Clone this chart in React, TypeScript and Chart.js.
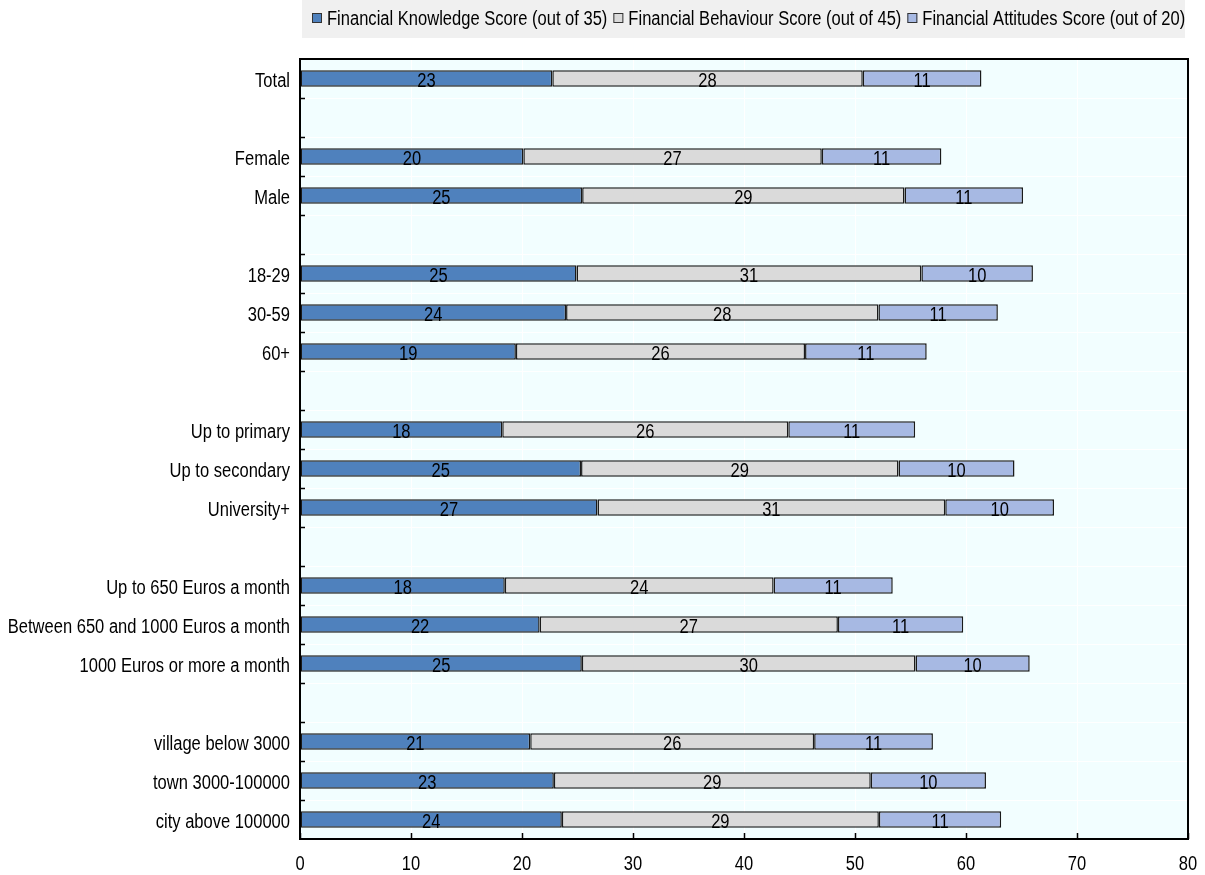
import { useEffect, useRef } from "react";
import { Chart, registerables } from "chart.js";

Chart.register(...registerables);

// Group rows; empty strings are spacer rows between groups
const categories: string[] = [
  "Total",
  "",
  "Female",
  "Male",
  "",
  "18-29",
  "30-59",
  "60+",
  "",
  "Up to primary",
  "Up to secondary",
  "University+",
  "",
  "Up to 650 Euros a month",
  "Between 650 and 1000 Euros a month",
  "1000 Euros or more a month",
  "",
  "village below 3000",
  "town 3000-100000",
  "city above 100000",
];

const seriesNames: string[] = [
  "Financial Knowledge Score (out of 35)",
  "Financial Behaviour Score (out of 45)",
  "Financial Attitudes Score (out of 20)",
];

const knowledge: (number | null)[] = [
  22.73, null, 20.12, 25.42, null, 24.91, 23.97, 19.45, null, 18.22, 25.32, 26.8,
  null, 18.45, 21.59, 25.39, null, 20.74, 22.87, 23.59,
];

const behaviour: (number | null)[] = [
  27.97, null, 26.89, 29.04, null, 31.07, 28.14, 26.05, null, 25.77, 28.6, 31.33,
  null, 24.22, 26.87, 30.06, null, 25.58, 28.55, 28.56,
];

const attitudes: (number | null)[] = [
  10.69, null, 10.77, 10.68, null, 10.05, 10.76, 10.96, null, 11.43, 10.45, 9.8,
  null, 10.73, 11.29, 10.29, null, 10.7, 10.38, 11.02,
];

const xTicks: number[] = [0, 10, 20, 30, 40, 50, 60, 70, 80];

const seriesColors = ["#4F81BD", "#DADADA", "#A7B9E3"];

// Narrow sans text: a regular sans face squeezed horizontally
const FONT = '19.5px "Liberation Sans", Arial, "DejaVu Sans", sans-serif';
const SQUEEZE = 0.848;

const W = 1205;
const H = 875;

function drawText(ctx: CanvasRenderingContext2D, text: string, x: number, y: number, align: CanvasTextAlign) {
  ctx.save();
  ctx.translate(x, y);
  ctx.scale(SQUEEZE, 1);
  ctx.font = FONT;
  ctx.fillStyle = "#000000";
  ctx.textAlign = align;
  ctx.textBaseline = "alphabetic";
  ctx.fillText(text, 0, 0);
  ctx.restore();
}

function textWidth(ctx: CanvasRenderingContext2D, text: string) {
  ctx.save();
  ctx.font = FONT;
  const w = ctx.measureText(text).width * SQUEEZE;
  ctx.restore();
  return w;
}

// Paints the page, the legend band and the plot background
const backgroundPlugin = {
  id: "backgrounds",
  beforeDraw(chart: any) {
    const { ctx, chartArea } = chart;
    ctx.save();
    ctx.fillStyle = "#FFFFFF";
    ctx.fillRect(0, 0, chart.width, chart.height);
    ctx.fillStyle = "#F0F0F0";
    ctx.fillRect(chartArea.left + 2, 0, chartArea.right - chartArea.left - 5, 38);
    ctx.fillStyle = "#F2FEFF";
    ctx.fillRect(chartArea.left, chartArea.top, chartArea.right - chartArea.left, chartArea.bottom - chartArea.top);
    ctx.restore();
  },
};

// Value labels centred on every bar segment
const valueLabelPlugin = {
  id: "valueLabels",
  afterDatasetsDraw(chart: any) {
    const { ctx } = chart;
    chart.data.datasets.forEach((ds: any, di: number) => {
      const meta = chart.getDatasetMeta(di);
      meta.data.forEach((el: any, i: number) => {
        const v = ds.data[i];
        if (v == null) return;
        drawText(ctx, String(Math.round(v)), (el.x + el.base) / 2, el.y + 8.5, "center");
      });
    });
  },
};

// Frame, inward tick marks, axis labels and the legend
const framePlugin = {
  id: "frameAndLegend",
  afterDraw(chart: any) {
    const { ctx, chartArea } = chart;
    const { left, right, top, bottom } = chartArea;
    const xScale = chart.scales.x;
    const yScale = chart.scales.y;
    ctx.save();

    ctx.strokeStyle = "#000000";
    ctx.lineWidth = 1.5;
    xTicks.forEach((t) => {
      const px = Math.round(xScale.getPixelForValue(t)) + 0.5;
      ctx.beginPath();
      ctx.moveTo(px, bottom);
      ctx.lineTo(px, bottom - 6);
      ctx.stroke();
    });
    const n = categories.length;
    for (let i = 1; i < n; i++) {
      const py = Math.round(top + (i * (bottom - top)) / n) + 0.5;
      ctx.beginPath();
      ctx.moveTo(left, py);
      ctx.lineTo(left + 5, py);
      ctx.stroke();
    }

    ctx.lineWidth = 2;
    ctx.strokeRect(left, top, right - left, bottom - top);
    ctx.restore();

    // value axis labels
    xTicks.forEach((t) => {
      drawText(ctx, String(t), xScale.getPixelForValue(t), bottom + 31, "center");
    });

    // category labels
    categories.forEach((c, i) => {
      if (!c) return;
      drawText(ctx, c, left - 10, yScale.getPixelForValue(i) + 8, "right");
    });

    // legend
    const box = 10;
    const gapBoxText = 5;
    const gapItems = 6;
    let x = left + 12;
    const cy = 18;
    ctx.save();
    seriesNames.forEach((name, i) => {
      ctx.fillStyle = seriesColors[i];
      ctx.fillRect(x, cy - box / 2, box, box);
      ctx.strokeStyle = "#333333";
      ctx.lineWidth = 1;
      ctx.strokeRect(x + 0.5, cy - box / 2 + 0.5, box - 1, box - 1);
      drawText(ctx, name, x + box + gapBoxText, 25, "left");
      x += box + gapBoxText + textWidth(ctx, name) + gapItems;
    });
    ctx.restore();
  },
};

export default function App() {
  const canvasRef = useRef<HTMLCanvasElement | null>(null);

  useEffect(() => {
    document.body.style.margin = "0";
    const canvas = canvasRef.current;
    if (!canvas) return;

    const makeDataset = (i: number, values: (number | null)[]) => ({
      label: seriesNames[i],
      data: values,
      backgroundColor: seriesColors[i],
      borderColor: "#1A1A1A",
      borderWidth: 1.5,
      borderSkipped: false,
      barPercentage: 0.42,
      categoryPercentage: 1,
    });

    const chart = new Chart(canvas, {
      type: "bar",
      data: {
        labels: categories,
        datasets: [
          makeDataset(0, knowledge),
          makeDataset(1, behaviour),
          makeDataset(2, attitudes),
        ],
      },
      options: {
        indexAxis: "y",
        responsive: false,
        animation: false,
        devicePixelRatio: 1,
        layout: { padding: { top: 59, right: 17, left: 0, bottom: 0 } },
        plugins: {
          legend: { display: false },
          tooltip: { enabled: false },
          title: { display: false },
        },
        scales: {
          x: {
            stacked: true,
            min: 0,
            max: 80,
            afterBuildTicks: (scale: any) => {
              scale.ticks = xTicks.map((v) => ({ value: v }));
            },
            afterFit: (scale: any) => {
              scale.height = 36;
            },
            grid: { color: "#FFFFFF", lineWidth: 1, drawTicks: false },
            border: { display: false },
            ticks: { display: false },
          },
          y: {
            stacked: true,
            afterFit: (scale: any) => {
              scale.width = 300;
            },
            grid: { color: "#FFFFFF", lineWidth: 1, drawTicks: false, offset: true },
            border: { display: false },
            ticks: { display: false, autoSkip: false },
          },
        },
      },
      plugins: [backgroundPlugin, valueLabelPlugin, framePlugin],
    } as any);

    return () => chart.destroy();
  }, []);

  return (
    <div style={{ width: W, height: H }}>
      <canvas ref={canvasRef} width={W} height={H} style={{ width: W, height: H, display: "block" }} />
    </div>
  );
}
